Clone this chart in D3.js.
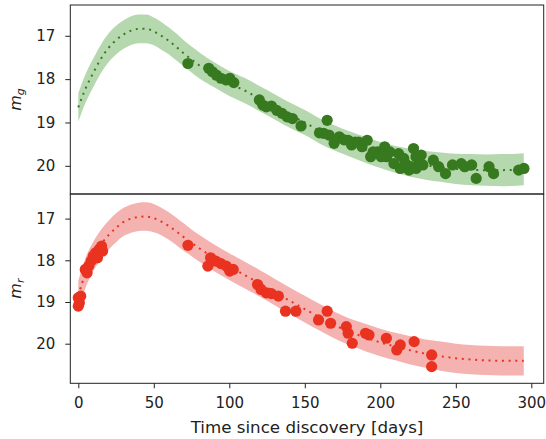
<!DOCTYPE html>
<html><head><meta charset="utf-8">
<script src="https://cdn.jsdelivr.net/npm/d3@7"></script>
<style>
body{margin:0;background:#fff;}
svg text{font-family:"DejaVu Sans",sans-serif;}
</style></head>
<body><svg id="chart" width="546" height="439"></svg>
<script>
// ---- data ----
const xTicks = [0, 50, 100, 150, 200, 250, 300];
const yTicks = [17, 18, 19, 20];

const gDays = [72.6,86.4,88.8,91.5,94.5,98.0,100.3,103.0,119.9,122.2,124.5,127.9,131.4,134.9,138.3,141.8,147.5,164.8,159.7,166.0,169.4,172.8,178.7,183.3,187.9,191.3,193.6,198.2,202.9,204.0,206.3,212.1,213.2,216.7,220.1,222.0,223.6,225.9,227.1,235.1,238.6,243.2,247.8,253.6,255.9,260.5,263.5,272.0,275.0,291.6,295.1,200.6,215.5,219.0,223.6,228.2,195.2,181.0,162.5,185.6,209.0,176.0];
const gMag  = [17.64,17.75,17.83,17.91,17.98,18.02,17.98,18.08,18.48,18.60,18.64,18.62,18.72,18.79,18.87,18.91,19.08,18.95,19.24,19.29,19.48,19.33,19.41,19.45,19.56,19.41,19.79,19.68,19.56,19.79,19.68,19.72,20.06,19.95,20.02,19.60,19.79,19.91,19.75,19.87,20.02,20.18,19.98,19.95,20.02,19.98,20.29,20.02,20.18,20.10,20.06,19.79,19.83,20.10,20.06,19.98,19.68,19.52,19.25,19.45,19.95,19.40];

const rDays = [0,0,0.7,1.6,4.6,5.8,6.9,8.5,9.9,11.5,12.7,13.8,15.4,16.1,72.6,85.8,87.6,91.1,94.5,98.0,100.3,102.6,118.7,121.0,124.5,127.9,132.5,137.2,144.1,159.1,164.8,167.1,177.5,178.7,181.4,190.2,192.5,204.0,210.9,213.2,222.4,234.0,234.0];
const rMag  = [18.90,19.10,19.02,18.86,18.22,18.30,18.14,18.02,17.90,17.82,17.94,17.74,17.66,17.78,17.64,18.14,17.94,18.02,18.08,18.14,18.26,18.22,18.58,18.70,18.78,18.80,18.86,19.22,19.22,19.43,19.22,19.51,19.59,19.75,19.99,19.75,19.79,19.87,20.15,20.03,19.95,20.27,20.55];

const fitDays = [0,5,10,15,20,25,30,35,40,45,50,55,60,65,70,75,80,90,100,110,120,130,140,150,160,170,180,190,200,210,220,230,240,250,260,270,280,290,295];
const gFit = [18.65,18.2,17.85,17.53,17.28,17.1,16.97,16.88,16.84,16.84,16.9,17.0,17.12,17.26,17.41,17.55,17.68,17.9,18.1,18.26,18.45,18.64,18.83,19.0,19.2,19.36,19.5,19.63,19.75,19.85,19.93,19.99,20.03,20.07,20.09,20.1,20.1,20.09,20.08];
const gErr = [0.33,0.33,0.33,0.33,0.33,0.33,0.33,0.33,0.33,0.33,0.32,0.32,0.31,0.31,0.3,0.3,0.3,0.29,0.29,0.29,0.29,0.29,0.29,0.29,0.29,0.29,0.29,0.3,0.3,0.31,0.32,0.33,0.34,0.35,0.36,0.36,0.37,0.37,0.37];
const rFit = [18.85,18.28,17.9,17.62,17.4,17.22,17.08,17.0,16.96,16.95,16.99,17.07,17.18,17.31,17.45,17.58,17.71,17.94,18.15,18.35,18.55,18.76,18.97,19.17,19.37,19.56,19.72,19.85,19.97,20.07,20.16,20.24,20.3,20.35,20.38,20.4,20.41,20.41,20.41];
const rErr = [0.36,0.36,0.35,0.35,0.35,0.35,0.34,0.34,0.34,0.34,0.34,0.33,0.33,0.33,0.33,0.32,0.32,0.32,0.32,0.32,0.32,0.32,0.32,0.32,0.32,0.32,0.32,0.33,0.33,0.33,0.34,0.34,0.35,0.35,0.35,0.35,0.35,0.35,0.35];

// ---- layout ----
const svg = d3.select("#chart");
const left = 70.3, right = 543.7;
const x = d3.scaleLinear().domain([-5.3, 308.2]).range([left, right]);

const panels = [
  {top: 5, bottom: 194, domain: [16.29, 20.65], days: gDays, mags: gMag, fit: gFit, err: gErr,
   pt: "#37791f", band: "#b6d8af", line: "#37791f", sub: "g"},
  {top: 194, bottom: 383.3, domain: [16.41, 20.95], days: rDays, mags: rMag, fit: rFit, err: rErr,
   pt: "#e9321f", band: "#f4b3b1", line: "#e9321f", sub: "r"}
];

panels.forEach((p, i) => {
  const y = d3.scaleLinear().domain(p.domain).range([p.top, p.bottom]);
  const g = svg.append("g");
  const clipId = "clip" + i;
  svg.append("clipPath").attr("id", clipId).append("rect")
    .attr("x", left).attr("y", p.top).attr("width", right - left).attr("height", p.bottom - p.top);
  const body = g.append("g").attr("clip-path", `url(#${clipId})`);

  const fitData = fitDays.map((d, k) => ({d, m: p.fit[k], e: p.err[k]}));
  const area = d3.area().curve(d3.curveMonotoneX)
    .x(o => x(o.d)).y0(o => y(o.m - o.e)).y1(o => y(o.m + o.e));
  body.append("path").datum(fitData).attr("d", area).attr("fill", p.band);

  const line = d3.line().curve(d3.curveMonotoneX).x(o => x(o.d)).y(o => y(o.m));
  body.append("path").datum(fitData).attr("d", line)
    .attr("fill", "none").attr("stroke", p.line).attr("stroke-width", 2)
    .attr("stroke-dasharray", "2,4.7");

  body.selectAll("circle").data(p.days.map((d, k) => [d, p.mags[k]])).join("circle")
    .attr("cx", o => x(o[0])).attr("cy", o => y(o[1])).attr("r", 5.6).attr("fill", p.pt);

  // y axis
  const ya = g.append("g").attr("transform", `translate(${left},0)`)
    .call(d3.axisLeft(y).tickValues(yTicks).tickSize(5).tickPadding(10).tickFormat(d3.format("d")));
  ya.select(".domain").remove();
  ya.selectAll("text").attr("font-size", 15).attr("fill", "#222").attr("font-family", "DejaVu Sans");
  ya.selectAll("line").attr("stroke", "#222");

  // frame
  g.append("rect").attr("x", left).attr("y", p.top).attr("width", right - left).attr("height", p.bottom - p.top)
    .attr("fill", "none").attr("stroke", "#222").attr("stroke-width", 1);

  // y label
  const lab = g.append("text")
    .attr("transform", `translate(20.5,${(p.top + p.bottom) / 2}) rotate(-90)`)
    .attr("text-anchor", "middle").attr("font-size", 16).attr("fill", "#222");
  lab.append("tspan").attr("font-style", "italic").text("m");
  lab.append("tspan").attr("font-style", "italic").attr("font-size", 11).attr("dy", 3).text(p.sub);

  if (i === 1) {
    const xa = g.append("g").attr("transform", `translate(0,${p.bottom})`)
      .call(d3.axisBottom(x).tickValues(xTicks).tickSize(5).tickPadding(9.5).tickFormat(d3.format("d")));
    xa.select(".domain").remove();
    xa.selectAll("text").attr("font-size", 15).attr("fill", "#222").attr("font-family", "DejaVu Sans");
    xa.selectAll("line").attr("stroke", "#222");
    g.append("text").attr("x", 307).attr("y", 433)
      .attr("text-anchor", "middle").attr("font-size", 16.7).attr("fill", "#222")
      .text("Time since discovery [days]");
  }
});
</script></body></html>
